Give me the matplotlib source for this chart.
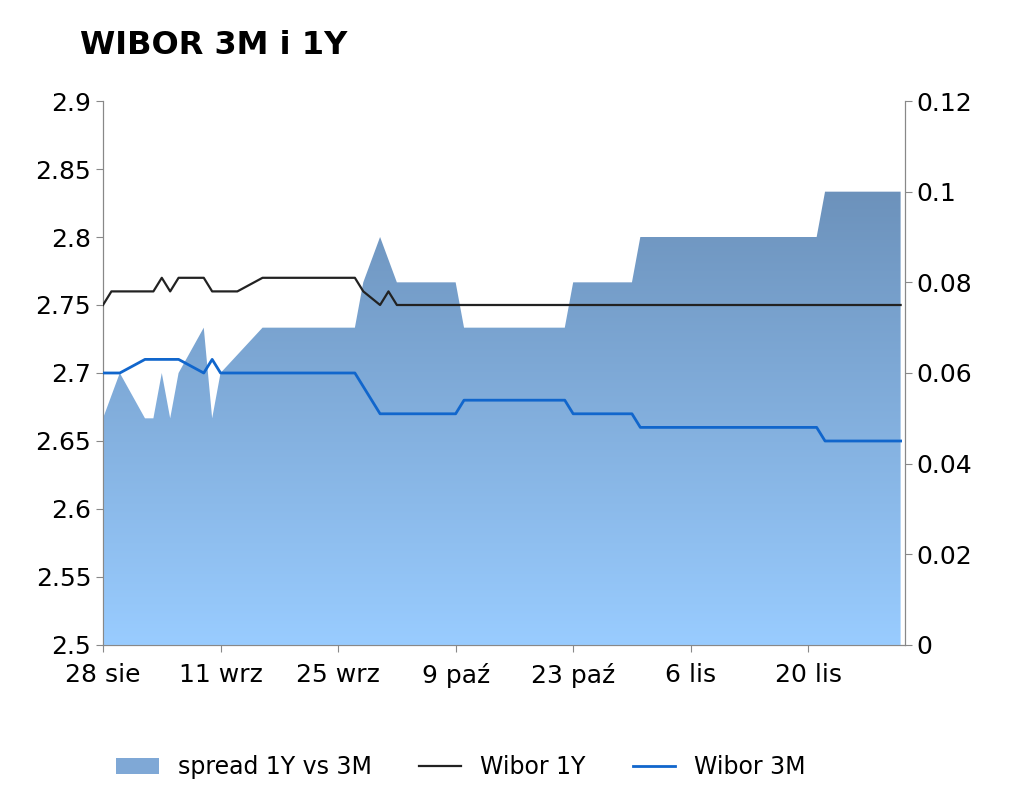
import matplotlib
matplotlib.use("Agg")
import matplotlib.pyplot as plt
import numpy as np
from matplotlib.patches import Polygon

# dni od 28 sierpnia
w1y_days = [0, 1, 6, 7, 8, 9, 12, 13, 16, 19, 30, 31, 33, 34, 35, 95]
w1y_vals = [2.75, 2.76, 2.76, 2.77, 2.76, 2.77, 2.77, 2.76, 2.76, 2.77, 2.77, 2.76, 2.75, 2.76, 2.75, 2.75]

w3m_days = [0, 2, 5, 9, 12, 13, 14, 30, 33, 42, 43, 55, 56, 63, 64, 85, 86, 95]
w3m_vals = [2.70, 2.70, 2.71, 2.71, 2.70, 2.71, 2.70, 2.70, 2.67, 2.67, 2.68, 2.68, 2.67, 2.67,
            2.66, 2.66, 2.65, 2.65]

spread_days = [0, 2, 5, 6, 7, 8, 9, 12, 13, 14, 19, 30, 31, 33, 35, 42, 43, 55, 56, 63, 64, 85, 86, 95]
spread_vals = [0.05, 0.06, 0.05, 0.05, 0.06, 0.05, 0.06, 0.07, 0.05, 0.06, 0.07, 0.07, 0.08, 0.09,
               0.08, 0.08, 0.07, 0.07, 0.08, 0.08, 0.09, 0.09, 0.10, 0.10]

tick_days = [0, 14, 28, 42, 56, 70, 84]
tick_labels = ["28 sie", "11 wrz", "25 wrz", "9 paź", "23 paź", "6 lis", "20 lis"]

fig = plt.figure(figsize=(10.24, 7.91), dpi=100)
ax = fig.add_axes([0.1006, 0.1846, 0.783, 0.6877])
ax2 = ax.twinx()

ax.set_xlim(0, 95.5)
ax.set_ylim(2.5, 2.9)
ax2.set_ylim(0, 0.12)

# wypełnienie spreadu z gradientem
verts = list(zip(spread_days, spread_vals)) + [(spread_days[-1], 0), (spread_days[0], 0)]
poly = Polygon(verts, closed=True, facecolor="none", edgecolor="none", transform=ax2.transData)
ax2.add_patch(poly)
grad = np.linspace(0, 1, 256).reshape(-1, 1)
cmap = matplotlib.colors.LinearSegmentedColormap.from_list("g", ["#99ccff", "#6a8fb8"])
img = ax2.imshow(grad, extent=[0, 95.5, 0, 0.105], origin="lower", aspect="auto", cmap=cmap, zorder=1)
img.set_clip_path(poly)
ax2.set_ylim(0, 0.12)
ax2.set_xlim(0, 95.5)

ax2.plot(w1y_days, w1y_vals, color="#222222", lw=1.6, transform=ax.transData, zorder=3)
ax2.plot(w3m_days, w3m_vals, color="#1166cc", lw=2, transform=ax.transData, zorder=3)

ax.set_yticks(np.arange(2.5, 2.91, 0.05))
ax.set_yticklabels(["2.5", "2.55", "2.6", "2.65", "2.7", "2.75", "2.8", "2.85", "2.9"])
ax2.set_yticks(np.arange(0, 0.121, 0.02))
ax2.set_yticklabels(["0", "0.02", "0.04", "0.06", "0.08", "0.1", "0.12"])
ax.set_xticks(tick_days)
ax.set_xticklabels(tick_labels)

for a in (ax, ax2):
    a.tick_params(labelsize=18, color="#888888", length=5)
    a.spines["top"].set_visible(False)
    for s in ("left", "right", "bottom"):
        a.spines[s].set_color("#888888")
ax.tick_params(axis="x", length=5, pad=8)

# legenda
from matplotlib.patches import Patch
from matplotlib.lines import Line2D
handles = [Patch(facecolor="#7fa8d6", label="spread 1Y vs 3M"),
           Line2D([], [], color="#222222", lw=1.6, label="Wibor 1Y"),
           Line2D([], [], color="#1166cc", lw=2, label="Wibor 3M")]
fig.legend(handles=handles, loc="center", bbox_to_anchor=(0.45, 0.03), ncol=3, frameon=False,
           fontsize=17, handlelength=1.8, columnspacing=2.0)

fig.text(0.078, 0.943, "WIBOR 3M i 1Y", fontsize=23, fontweight="bold", va="center")

fig.savefig("out.png", dpi=100)
